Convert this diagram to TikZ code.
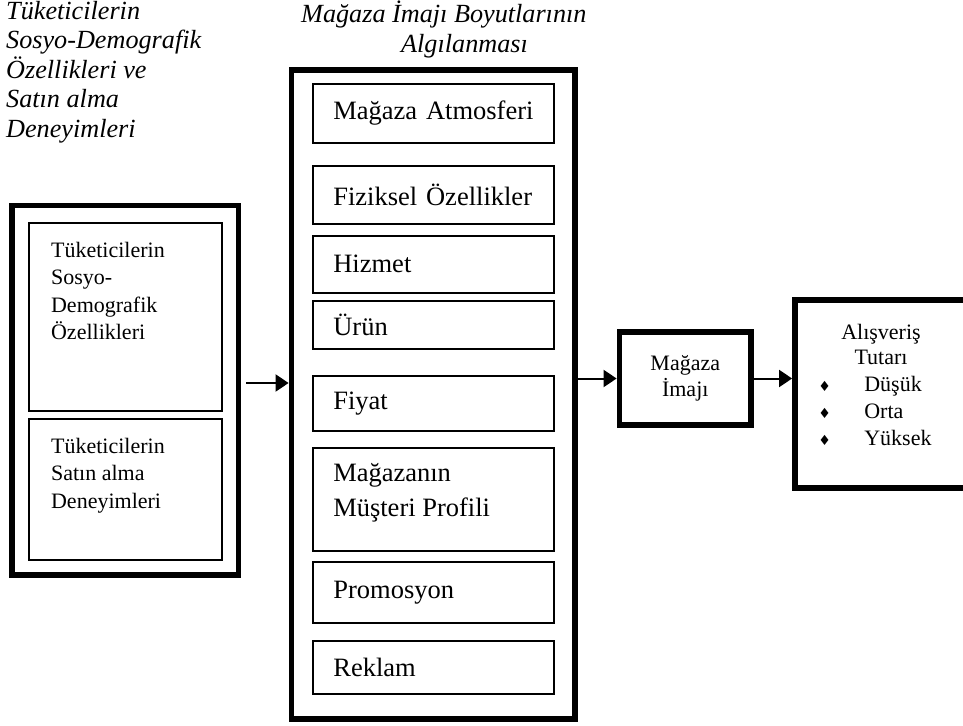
\documentclass[tikz,border=0pt]{standalone}
\usepackage{fontspec}
\setmainfont{Liberation Serif}
\newfontfamily\elmasfont{DejaVu Sans}
\usepackage{tikz}
\usetikzlibrary{positioning}
\usetikzlibrary{arrows.meta}

\newcommand{\madde}[1]{\makebox[46pt][l]{\elmasfont\fontsize{14}{14}\selectfont ♦}#1}

\tikzset{
	kalin/.style={draw, rectangle, line width=5.8pt, inner sep=0pt},
	ince/.style={draw, rectangle, line width=1.8pt, inner sep=0pt},
	boyutkutu/.style={ince, minimum width=240.7pt, text width=200.7pt, inner xsep=20pt, align=left, font=\fontsize{26.5}{36}\selectfont},
	yazi/.style={inner sep=0pt, align=left, font=\fontsize{22}{27.5}\selectfont},
	baslik/.style={inner sep=0pt, align=left, font=\itshape\fontsize{26.2}{29.5}\selectfont},
	ok/.style={line width=2pt, -{Triangle[length=13pt, width=17pt]}}
}

\begin{document}
\begin{tikzpicture}[x=1pt, y=-1pt]
				\useasboundingbox (0,0) rectangle (963,725);

				\node[baslik, anchor=north west] (baslik1) at (6,1) {Tüketicilerin\\Sosyo-Demografik\\Özellikleri ve\\Satın alma\\Deneyimleri};
				\node[baslik, anchor=north west] (baslik2) at (301,1) {Mağaza İmajı Boyutlarının\\\hspace*{100pt}Algılanması};

				\node[kalin, line width=5.5pt, minimum width=226.5pt, minimum height=369.5pt] (tukbox) at (125.25,390.25) {};
				\node[ince, minimum width=193pt, minimum height=187.4pt] (sosyo) at (125.8,317) {};
				\node[ince, minimum width=193pt, minimum height=141.3pt] (deney) at (125.8,489.35) {};
				\node[yazi, below right=19.5pt and 22.5pt of sosyo.north west] (sosyot) {Tüketicilerin\\Sosyo-\\Demografik\\Özellikleri};
				\node[yazi, below right=20.2pt and 22.5pt of deney.north west] (deneyt) {Tüketicilerin\\Satın alma\\Deneyimleri};

				\node[kalin, minimum width=283.5pt, minimum height=649pt] (boyut) at (433.25,394.5) {};
				\node[boyutkutu, minimum height=58.4pt] (atm) at (433.7,113.5) {Mağaza Atmosferi};
				\node[boyutkutu, minimum height=58pt] (fiz) at (433.7,195) {Fiziksel Özellikler};
				\node[boyutkutu, minimum height=57pt] (hiz) at (433.7,264.2) {Hizmet};
				\node[boyutkutu, minimum height=48pt] (urun) at (433.7,325) {Ürün};
				\node[boyutkutu, minimum height=54.7pt] (fiyat) at (433.7,403.3) {Fiyat};
				\node[boyutkutu, minimum height=103pt] (profil) at (433.7,499.2) {};
				\node[yazi, font=\fontsize{26.5}{34.5}\selectfont, below right=16.5pt and 20.6pt of profil.north west] (profilt) {Mağazanın\\Müşteri Profili};
				\node[boyutkutu, minimum height=61pt] (promo) at (433.7,592.2) {Promosyon};
				\node[boyutkutu, minimum height=53.6pt] (reklam) at (433.7,667.5) {Reklam};

				\node[kalin, align=center, font=\fontsize{22}{26}\selectfont, minimum width=131.5pt, minimum height=93pt] (imaj) at (685.25,378.5) {Mağaza\\İmajı};

				\node[kalin, minimum width=172pt, minimum height=188pt] (tutar) at (881,394) {};
				\node[yazi, align=center, font=\fontsize{22}{25}\selectfont, below=27pt of tutar.north] (tutarh) {Alışveriş\\Tutarı};
				\node[yazi, font=\fontsize{22}{27}\selectfont, below right=79pt and 26pt of tutar.north west] (tutarl) {\madde{Düşük}\\\madde{Orta}\\\madde{Yüksek}};

				\draw[ok, shorten <=5pt] (tukbox.east |- 0,383) -- (boyut.west |- 0,383);
				\draw[ok] (boyut.east |- imaj.west) -- (imaj.west);
				\draw[ok] (imaj.east) -- (tutar.west |- imaj.east);
			\end{tikzpicture}
\end{document}
